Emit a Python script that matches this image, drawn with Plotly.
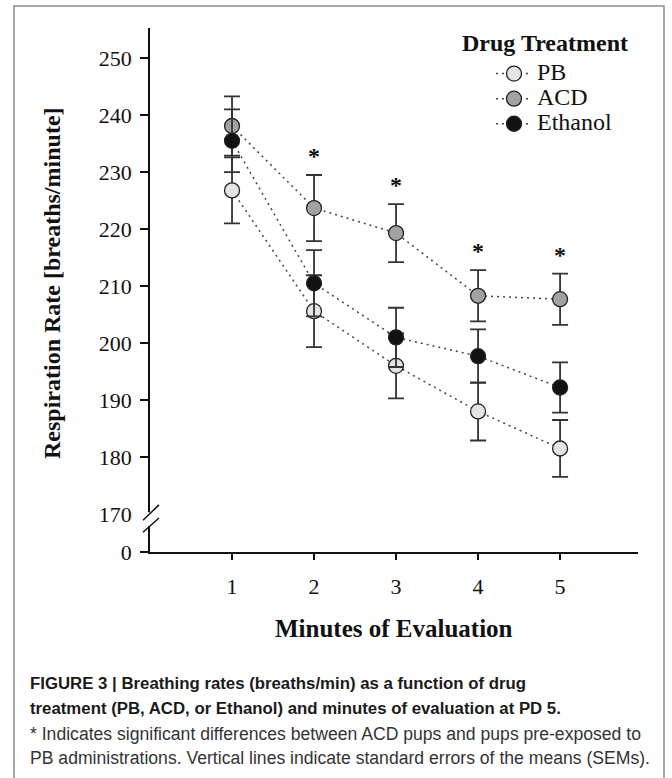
import plotly.graph_objects as go

# ---------------- data ----------------
minutes = [1, 2, 3, 4, 5]
pb_mean = [226.8, 205.6, 196.0, 188.0, 181.5]
pb_sem = [5.8, 6.3, 5.7, 5.1, 5.0]
acd_mean = [238.1, 223.7, 219.3, 208.3, 207.7]
acd_sem = [5.2, 5.8, 5.1, 4.5, 4.5]
eth_mean = [235.5, 210.5, 201.0, 197.7, 192.2]
eth_sem = [5.5, 5.8, 5.2, 4.7, 4.4]
significant = [False, True, True, True, True]

x_tick_vals = [1, 2, 3, 4, 5]
y_tick_vals = [170, 180, 190, 200, 210, 220, 230, 240, 250]
y_tick_text = ["170", "180", "190", "200", "210", "220", "230", "240", "250"]
zero_label = "0"

caption_bold = [
    "FIGURE 3 | Breathing rates (breaths/min) as a function of drug",
    "treatment (PB, ACD, or Ethanol) and minutes of evaluation at PD 5.",
]
caption_regular = [
    "* Indicates significant differences between ACD pups and pups pre-exposed to",
    "PB administrations. Vertical lines indicate standard errors of the means (SEMs).",
]

# ---------------- layout constants ----------------
W, H = 672, 778
L, R, T, B = 150, 34, 28, 226
plot_w = W - L - R
plot_h = H - T - B
Y_BOTTOM = 163.33  # axis position that carries the broken-axis "0" label
Y_TOP = 255.3
SERIF = "Liberation Serif, Times New Roman, serif"
SANS = "Liberation Sans, Arial, Helvetica, sans-serif"


def px_x(p):
    return (p - L) / plot_w


def px_y(p):
    return (H - B - p) / plot_h


series = [
    ("PB", pb_mean, pb_sem, "#e4e4e4"),
    ("ACD", acd_mean, acd_sem, "#a2a2a2"),
    ("Ethanol", eth_mean, eth_sem, "#121212"),
]

fig = go.Figure()
for name, mean, sem, fill in series:
    fig.add_trace(go.Scatter(
        x=minutes, y=mean, name='<span style="font-size:24px">%s</span>' % name,
        mode="lines+markers",
        line=dict(color="#444444", width=1.5, dash="2px,4px"),
        marker=dict(size=15, color=fill, line=dict(color="#222222", width=1.3)),
        error_y=dict(type="data", array=sem, visible=True, color="#333333",
                     thickness=1.8, width=8),
        cliponaxis=False,
    ))

annotations = []
# significance asterisks
for xv, m, s, sig in zip(minutes, acd_mean, acd_sem, significant):
    if sig:
        annotations.append(dict(x=xv, y=m + s, xref="x", yref="y", text="<b>*</b>",
                                showarrow=False, xanchor="center", yanchor="bottom", yshift=4,
                                font=dict(family=SERIF, size=24, color="#111111")))

# axis titles
annotations.append(dict(x=px_x(52), y=px_y(283), xref="paper", yref="paper",
                        xanchor="center", yanchor="middle",
                        text="<b>Respiration Rate [breaths/minute]</b>", textangle=-90,
                        showarrow=False, font=dict(family=SERIF, size=24, color="#111111")))
annotations.append(dict(x=px_x(394), y=px_y(628), xref="paper", yref="paper",
                        xanchor="center", yanchor="middle",
                        text="<b>Minutes of Evaluation</b>",
                        showarrow=False, font=dict(family=SERIF, size=25, color="#111111")))
# legend title
annotations.append(dict(x=px_x(545), y=px_y(43), xref="paper", yref="paper",
                        xanchor="center", yanchor="middle",
                        text="<b>Drug Treatment</b>",
                        showarrow=False, font=dict(family=SERIF, size=24, color="#111111")))
# caption
for line, yy in zip(caption_bold, [683, 708]):
    annotations.append(dict(x=px_x(28), y=px_y(yy), xref="paper", yref="paper",
                            text="<b>%s</b>" % line, xanchor="left", yanchor="middle",
                            showarrow=False,
                            font=dict(family=SANS, size=16.8, color="#1a1a1a")))
for line, yy in zip(caption_regular, [734, 758]):
    annotations.append(dict(x=px_x(28), y=px_y(yy), xref="paper", yref="paper",
                            text=line, xanchor="left", yanchor="middle",
                            showarrow=False,
                            font=dict(family=SANS, size=17.6, color="#333333")))

shapes = [
    # outer frame
    dict(type="rect", xref="paper", yref="paper", x0=px_x(14), x1=px_x(664),
         y0=px_y(830), y1=px_y(6), line=dict(color="#8a8a8a", width=1.5),
         fillcolor="rgba(0,0,0,0)", layer="below"),
    # axis break: white gap + two slashes
    dict(type="rect", xref="paper", yref="y", xsizemode="pixel", xanchor=0,
         x0=-10, x1=4, y0=167.9, y1=170.3, fillcolor="white",
         line=dict(width=0), layer="above"),
    dict(type="line", xref="paper", yref="y", xsizemode="pixel", xanchor=0,
         x0=-7, x1=9, y0=168.9, y1=171.6, line=dict(color="#111111", width=1.5),
         layer="above"),
    dict(type="line", xref="paper", yref="y", xsizemode="pixel", xanchor=0,
         x0=-7, x1=9, y0=166.8, y1=169.3, line=dict(color="#111111", width=1.5),
         layer="above"),
]

fig.update_layout(
    width=W, height=H,
    margin=dict(l=L, r=R, t=T, b=B),
    paper_bgcolor="white", plot_bgcolor="white",
    showlegend=True,
    legend=dict(x=px_x(491), y=px_y(56), xanchor="left", yanchor="top",
                bgcolor="rgba(0,0,0,0)", borderwidth=0,
                font=dict(family=SERIF, size=17, color="#111111"),
                itemwidth=36, tracegroupgap=0),
    annotations=annotations,
    shapes=shapes,
    font=dict(family=SERIF, color="#111111"),
)
fig.update_xaxes(range=[0, 5.95], tickvals=x_tick_vals, showgrid=False, zeroline=False,
                 showline=True, linecolor="#111111", linewidth=1.6,
                 ticks="outside", ticklen=6, tickwidth=1.5, tickcolor="#111111",
                 ticklabelstandoff=8,
                 tickfont=dict(family=SERIF, size=22, color="#111111"))
fig.update_yaxes(range=[Y_BOTTOM, Y_TOP], tickvals=[Y_BOTTOM] + y_tick_vals,
                 ticktext=[zero_label] + y_tick_text,
                 showgrid=False, zeroline=False,
                 showline=True, linecolor="#111111", linewidth=1.6,
                 ticks="outside", ticklen=8, tickwidth=1.5, tickcolor="#111111",
                 ticklabelstandoff=4,
                 tickfont=dict(family=SERIF, size=22, color="#111111"))

fig.write_html("out.html")
